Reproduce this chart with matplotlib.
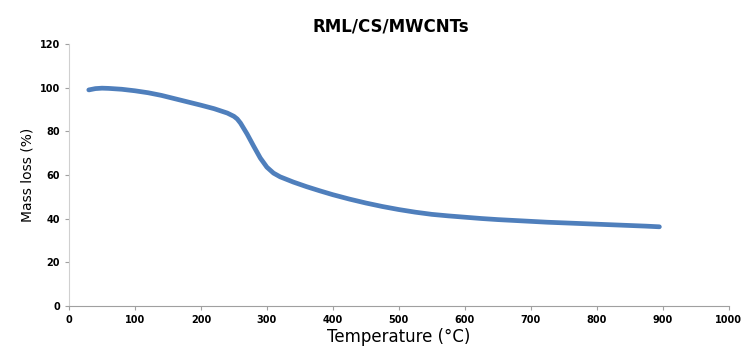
import matplotlib.pyplot as plt

# TGA curve
temps = [30, 40, 50, 60, 80, 100, 120, 140, 160, 180, 200, 220, 240, 250, 255, 260, 270,
         280, 290, 300, 310, 320, 340, 360, 380, 400, 425, 450, 475, 500, 525, 550,
         575, 600, 625, 650, 675, 700, 725, 750, 775, 800, 825, 850, 875, 895]
mass = [99.0, 99.6, 99.8, 99.7, 99.3, 98.6, 97.7, 96.5, 95.0, 93.5, 92.0, 90.4, 88.4,
        86.9, 85.7, 83.8, 78.8, 73.2, 67.8, 63.6, 60.9, 59.2, 56.8, 54.7, 52.8, 51.0,
        49.0, 47.2, 45.6, 44.2, 43.0, 42.0, 41.3, 40.7, 40.1, 39.6, 39.2, 38.8, 38.4,
        38.1, 37.8, 37.5, 37.2, 36.9, 36.6, 36.3]

xticks = list(range(0, 1001, 100))
yticks = list(range(0, 121, 20))

fig = plt.figure(figsize=(7.42, 3.47), dpi=100)
ax = fig.add_axes([0.093, 0.118, 0.889, 0.755])

ax.plot(temps, mass, color="#4f7fbc", linewidth=3.4, solid_capstyle="round",
        solid_joinstyle="round")

ax.set_xlim(0, 1000)
ax.set_ylim(0, 120)
ax.set_xticks(xticks)
ax.set_yticks(yticks)
ax.tick_params(labelsize=7, length=3, color="#a0a0a0", direction="out")
for lab in ax.get_xticklabels() + ax.get_yticklabels():
    lab.set_fontweight("bold")

ax.spines["top"].set_visible(False)
ax.spines["right"].set_visible(False)
ax.spines["left"].set_color("#d0d0d0")
ax.spines["bottom"].set_color("#a0a0a0")

ax.set_xlabel("Temperature (°C)", fontsize=12, labelpad=2)
ax.set_ylabel("Mass loss (%)", fontsize=10)
ax.set_title("RML/CS/MWCNTs", fontsize=12, fontweight="bold", pad=9, x=0.488)

fig.savefig("out.png", dpi=100)
